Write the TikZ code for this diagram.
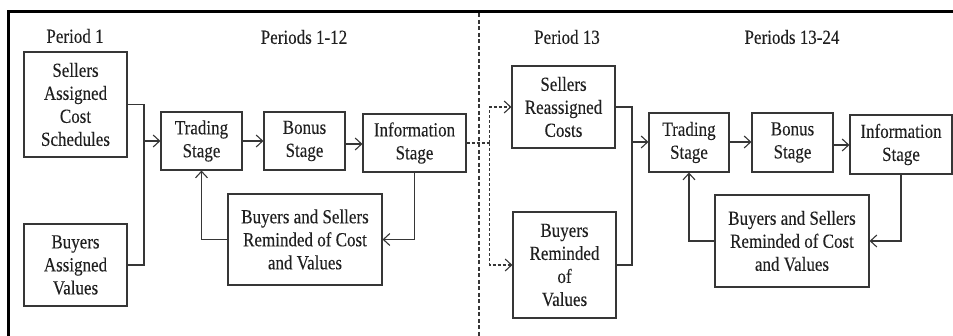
\documentclass[tikz,border=0pt]{standalone}
\usepackage{fontspec}
\setmainfont{Liberation Serif}[FakeStretch=0.85,FakeBold=0.15]
\usetikzlibrary{arrows.meta}
\definecolor{ink}{HTML}{202020}
\definecolor{wire}{HTML}{363636}
\begin{document}
\begin{tikzpicture}[x=1pt,y=-1pt,
  txt/.style={text=ink,font=\fontsize{20}{23}\selectfont,align=center,inner sep=0pt},
  box/.style={txt,draw=wire,line width=1.1pt,minimum width=#1},
  conn/.style={draw=wire,line width=1.1pt},
  arr/.style={conn,-{Straight Barb[length=6.5pt,width=12pt,line width=1.1pt]}},
  dconn/.style={conn,dash pattern=on 3pt off 2pt},
  darr/.style={dconn,-{Straight Barb[length=6.5pt,width=12pt,line width=1.1pt,sep=0pt]}}
]
\useasboundingbox (0,0) rectangle (953,336);
% outer frame (top and left edges) and the period divider
\draw[line width=3pt,black] (8,336) -- (8,12) -- (955,12);
\draw[wire,line width=1.1pt,dash pattern=on 4pt off 2.5pt] (479,13.5) -- (479,336);

% headings
\node[txt] (h1) at (75,36) {Period 1};
\node[txt] (h2) at (304,37) {Periods 1-12};
\node[txt] (h3) at (567,37) {Period 13};
\node[txt] (h4) at (792,37) {Periods 13-24};

% periods 1-12
\node[box=103pt,minimum height=105pt] (sA) at (75.5,104.5) {Sellers\\Assigned\\Cost\\Schedules};
\node[box=103pt,minimum height=82pt] (bA) at (75.5,265) {Buyers\\Assigned\\Values};
\node[box=81pt,minimum height=58pt] (tr1) at (201.5,141) {Trading\\Stage};
\node[box=81pt,minimum height=58pt] (bo1) at (304.5,141) {Bonus\\Stage};
\node[box=103pt,minimum height=58pt] (in1) at (414.5,143) {Information\\Stage};
\node[box=154pt,minimum height=91pt] (re1) at (305,239.5) {Buyers and Sellers\\Reminded of Cost\\and Values};

\coordinate (j1) at (144,141);
\draw[conn] (sA.east) -| (j1) |- (bA.east);
\draw[arr] (j1) -- (tr1.west);
\draw[arr] (tr1.east) -- (bo1.west);
\draw[arr] (bo1.east |- 0,144) -- (in1.west |- 0,144);
\draw[arr] (in1.south) |- (re1.east);
\draw[arr] (re1.west) -| (tr1.south);

% periods 13-24
\node[box=103pt,minimum height=82pt] (sR) at (563.5,107) {Sellers\\Reassigned\\Costs};
\node[box=103pt,minimum height=106pt] (bR) at (564.5,265) {Buyers\\Reminded\\of\\Values};
\node[box=80pt,minimum height=59pt] (tr2) at (689,142.5) {Trading\\Stage};
\node[box=81pt,minimum height=59pt] (bo2) at (792.5,142.5) {Bonus\\Stage};
\node[box=102pt,minimum height=59pt] (in2) at (901,144.5) {Information\\Stage};
\node[box=154pt,minimum height=92pt] (re2) at (792,241) {Buyers and Sellers\\Reminded of Cost\\and Values};

\coordinate (j2) at (632,142);
\draw[conn] (sR.east) -| (j2) |- (bR.west -| 616,265);
\draw[arr] (j2) -- (tr2.west |- j2);
\draw[arr] (tr2.east |- 0,142) -- (bo2.west |- 0,142);
\draw[arr] (bo2.east |- 0,145) -- (in2.west |- 0,145);
\draw[arr] (in2.south) |- (re2.east);
\draw[arr] (re2.west) -| (tr2.south);

% dashed hand-over from period 12 to period 13
\coordinate (d) at (489.5,143);
\draw[dconn] (in1.east) -- (d);
\draw[darr] (d) |- (sR.west);
\draw[darr] (d) |- (bR.west);
\end{tikzpicture}
\end{document}
